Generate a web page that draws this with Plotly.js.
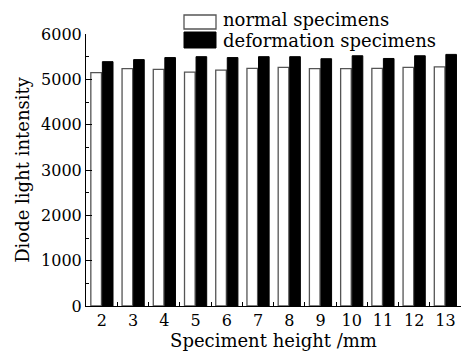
<!DOCTYPE html>
<html><head><meta charset="utf-8">
<script src="https://cdn.plot.ly/plotly-3.0.1.min.js"></script>
<style>html,body{margin:0;padding:0;background:#fff}</style>
</head><body><div id="chart" style="width:461px;height:351px"></div>
<script>
const heights = ['2','3','4','5','6','7','8','9','10','11','12','13'];
const normalVals = [5150, 5235, 5220, 5160, 5205, 5240, 5265, 5235, 5235, 5240, 5265, 5275];
const deformVals = [5390, 5435, 5480, 5500, 5480, 5500, 5500, 5455, 5520, 5460, 5520, 5550];
const seriesNames = ['normal specimens', 'deformation specimens'];
const yTicks = [0, 1000, 2000, 3000, 4000, 5000, 6000];

const F = 'DejaVu Serif, serif';
const traces = [
  {type:'bar', x:heights, y:normalVals, name:seriesNames[0],
   marker:{color:'#ffffff', line:{color:'#555555', width:1.3}}, showlegend:false},
  {type:'bar', x:heights, y:deformVals, name:seriesNames[1],
   marker:{color:'#000000', line:{color:'#000000', width:1}}, showlegend:false}
];
const layout = {
  width:461, height:351,
  margin:{l:86, r:0, t:34, b:45},
  paper_bgcolor:'#fff', plot_bgcolor:'#fff',
  font:{family:F, color:'#000', size:16},
  barmode:'group', bargap:0.26, bargroupgap:0.08,
  xaxis:{type:'category', range:[-0.51, 11.5], showgrid:false, zeroline:false,
    showline:true, linecolor:'#000', linewidth:1,
    ticks:'inside', tickson:'boundaries', ticklen:4, tickcolor:'#000',
    tickfont:{size:16, family:F},
    title:{text:'Speciment height /mm', font:{size:18, family:F}, standoff:2}},
  yaxis:{range:[0,6000], tickvals:yTicks, showgrid:false, zeroline:false,
    showline:true, linecolor:'#000', linewidth:1,
    ticks:'inside', ticklen:6, tickcolor:'#000',
    minor:{dtick:500, ticks:'inside', ticklen:3, tickcolor:'#000'},
    tickfont:{size:16, family:F},
    title:{text:'Diode light intensity', font:{size:18, family:F}, standoff:6}},
  shapes:[
    {type:'rect', xref:'paper', yref:'paper', x0:(184-86)/375, x1:(216-86)/375, y0:(351-45-29)/272, y1:(351-45-15)/272,
     fillcolor:'#fff', line:{color:'#555', width:1.3}},
    {type:'rect', xref:'paper', yref:'paper', x0:(184-86)/375, x1:(216-86)/375, y0:(351-45-48)/272, y1:(351-45-32)/272,
     fillcolor:'#000', line:{color:'#000', width:1}}
  ],
  annotations:[
    {xref:'paper', yref:'paper', x:(221-86)/375, y:(351-45-20)/272, xanchor:'left', yanchor:'middle',
     text:seriesNames[0], showarrow:false, font:{size:18, family:F}},
    {xref:'paper', yref:'paper', x:(221-86)/375, y:(351-45-40)/272, xanchor:'left', yanchor:'middle',
     text:seriesNames[1], showarrow:false, font:{size:18, family:F}}
  ]
};
Plotly.newPlot('chart', traces, layout, {staticPlot:true, displayModeBar:false});
</script></body></html>
